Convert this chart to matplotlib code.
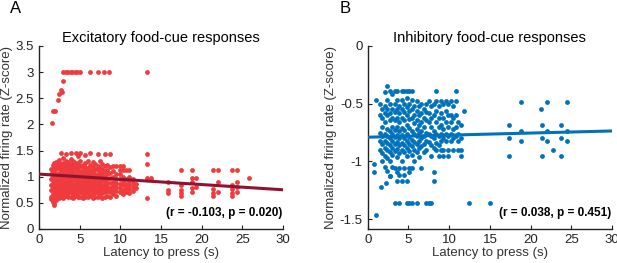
import matplotlib
matplotlib.use("Agg")
import matplotlib.pyplot as plt
import numpy as np

plt.rcParams['font.family'] = ['Liberation Sans', 'DejaVu Sans']

# ---------------- Panel A data (excitatory) ----------------
exc_cols_x = [1.5, 1.7, 1.9, 2.1, 2.4, 2.7, 3.0, 3.3, 3.6, 3.9, 4.2, 4.5, 4.8, 5.1, 5.4,
              5.7, 6.0, 6.3, 6.6, 6.9, 7.2, 7.5, 7.8, 8.1, 8.4, 8.7, 9.1, 9.5, 9.9, 10.3,
              10.7, 11.1, 11.6, 11.9]
exc_cols_y = [
    [0.58, 0.62, 0.75, 0.85, 0.95, 1.05, 1.15],
    [0.52, 0.66, 0.72, 0.80, 0.88, 0.98, 1.10, 1.22],
    [0.45, 0.50, 0.60, 0.68, 0.76, 0.83, 0.90, 0.97, 1.04, 1.12, 1.18, 1.26],
    [0.55, 0.63, 0.70, 0.77, 0.85, 0.92, 0.99, 1.06, 1.14, 1.20, 1.28],
    [0.60, 0.66, 0.72, 0.80, 0.87, 0.94, 1.00, 1.08, 1.16, 1.24, 1.32],
    [0.62, 0.69, 0.75, 0.82, 0.90, 0.96, 1.03, 1.10, 1.18, 1.25, 1.45],
    [0.60, 0.67, 0.73, 0.79, 0.86, 0.92, 0.99, 1.06, 1.12, 1.20, 1.27, 1.35],
    [0.63, 0.70, 0.76, 0.83, 0.90, 0.97, 1.03, 1.10, 1.16, 1.23, 1.30, 1.43],
    [0.61, 0.68, 0.74, 0.80, 0.88, 0.94, 1.01, 1.08, 1.15, 1.22, 1.28],
    [0.62, 0.70, 0.77, 0.84, 0.91, 0.98, 1.05, 1.12, 1.19, 1.25, 1.33, 1.45],
    [0.60, 0.66, 0.73, 0.80, 0.87, 0.95, 1.02, 1.09, 1.17, 1.24, 1.30],
    [0.63, 0.71, 0.78, 0.85, 0.92, 0.99, 1.06, 1.14, 1.21, 1.27, 1.45],
    [0.61, 0.68, 0.75, 0.82, 0.89, 0.96, 1.04, 1.11, 1.18, 1.25, 1.40],
    [0.62, 0.70, 0.77, 0.84, 0.90, 0.97, 1.03, 1.10, 1.20, 1.30, 1.46],
    [0.60, 0.66, 0.73, 0.80, 0.87, 0.94, 1.01, 1.08, 1.15, 1.23],
    [0.62, 0.69, 0.76, 0.84, 0.91, 0.98, 1.05, 1.12, 1.19, 1.27, 1.42],
    [0.61, 0.68, 0.74, 0.81, 0.88, 0.95, 1.02, 1.09, 1.16, 1.30],
    [0.63, 0.70, 0.77, 0.85, 0.92, 0.99, 1.06, 1.13, 1.22, 1.45],
    [0.60, 0.67, 0.74, 0.81, 0.88, 0.96, 1.03, 1.10, 1.18, 1.28],
    [0.62, 0.70, 0.77, 0.84, 0.91, 0.98, 1.06, 1.14, 1.25],
    [0.61, 0.68, 0.75, 0.82, 0.90, 0.97, 1.04, 1.12, 1.20, 1.44],
    [0.63, 0.71, 0.78, 0.86, 0.93, 1.00, 1.08, 1.17, 1.30],
    [0.60, 0.68, 0.76, 0.83, 0.91, 0.99, 1.07, 1.15, 1.24],
    [0.62, 0.70, 0.78, 0.86, 0.94, 1.02, 1.10, 1.20, 1.44],
    [0.64, 0.72, 0.80, 0.88, 0.96, 1.05, 1.13, 1.22],
    [0.62, 0.70, 0.78, 0.88, 0.97, 1.08, 1.18, 1.44],
    [0.66, 0.74, 0.82, 0.90, 0.99, 1.10, 1.20],
    [0.64, 0.72, 0.80, 0.88, 0.96, 1.06, 1.20],
    [0.70, 0.78, 0.86, 0.95, 1.05, 1.13, 1.20],
    [0.66, 0.75, 0.84, 0.92, 1.00, 1.12, 1.20],
    [0.70, 0.78, 0.86, 0.95, 1.13],
    [0.68, 0.76, 0.84, 0.92, 1.00, 1.13],
    [0.72, 0.80, 0.88, 0.95],
    [0.78, 0.86],
]
# sparse / outlying excitatory points
exc_x_extra = [1.56, 1.77, 1.97, 2.38, 2.5, 2.67, 2.8, 2.9,
               3.0, 3.3, 3.6, 3.9, 4.1, 4.4, 4.7, 5.0, 6.3, 7.2, 8.0, 8.6, 13.3,
               13.3, 13.3, 13.3, 13.8, 13.3,
               15.9, 15.9, 15.9,
               17.5, 17.5, 17.5, 17.5, 17.5,
               18.8, 18.8, 18.8, 18.8, 18.8, 19.3, 19.3,
               21.4, 21.4, 21.4, 21.4, 22.0, 22.0, 22.0,
               23.7, 23.7, 23.7, 23.7, 23.7, 24.4, 24.4, 24.4, 24.4,
               25.8]
exc_y_extra = [2.03, 2.26, 2.26, 2.47, 2.58, 2.66, 2.62, 2.83,
               3.0, 3.0, 3.0, 3.0, 3.0, 3.0, 3.0, 3.0, 3.0, 3.0, 3.0, 3.0, 3.0,
               1.43, 1.24, 0.98, 0.98, 0.60,
               0.89, 0.75, 0.68,
               1.13, 0.84, 0.75, 0.68, 0.63,
               1.13, 0.98, 0.89, 0.78, 0.71, 0.98, 0.81,
               1.13, 0.76, 0.68, 0.63, 1.13, 0.89, 0.71,
               1.13, 0.84, 0.76, 0.68, 0.63, 1.13, 0.89, 0.81, 0.71,
               0.98]
exc_fit = (1.05, -0.010)   # intercept, slope
exc_stats = "(r = -0.103, p = 0.020)"

# ---------------- Panel B data (inhibitory) ----------------
inh_cols_x = [1.5, 1.8, 2.1, 2.4, 2.7, 3.0, 3.3, 3.6, 3.9, 4.2, 4.5, 4.8, 5.1, 5.4, 5.7,
              6.0, 6.3, 6.6, 6.9, 7.2, 7.5, 7.8, 8.1, 8.4, 8.7, 9.0, 9.3, 9.6, 9.9,
              10.2, 10.5, 10.8, 11.1, 11.4, 11.8]
inh_cols_y = [
    [-0.50, -0.60, -0.75, -0.82, -0.90],
    [-0.55, -0.62, -0.70, -0.78, -0.85, -0.93, -1.00],
    [-0.40, -0.52, -0.58, -0.66, -0.76, -0.82, -0.88, -0.95, -1.05],
    [-0.35, -0.47, -0.55, -0.60, -0.72, -0.78, -0.84, -0.90, -0.97, -1.08],
    [-0.39, -0.50, -0.58, -0.64, -0.74, -0.80, -0.86, -0.92, -1.00, -1.13],
    [-0.42, -0.55, -0.62, -0.70, -0.76, -0.82, -0.88, -0.94, -1.05],
    [-0.39, -0.50, -0.57, -0.64, -0.73, -0.79, -0.85, -0.91, -1.06, -1.36],
    [-0.39, -0.47, -0.55, -0.62, -0.70, -0.77, -0.83, -0.89, -0.96, -1.09, -1.17],
    [-0.52, -0.58, -0.66, -0.74, -0.80, -0.86, -0.93, -1.06, -1.12, -1.36],
    [-0.39, -0.47, -0.55, -0.62, -0.71, -0.77, -0.84, -0.90, -1.00, -1.17],
    [-0.39, -0.50, -0.57, -0.64, -0.73, -0.80, -0.86, -0.92, -1.06, -1.12],
    [-0.39, -0.45, -0.53, -0.60, -0.68, -0.76, -0.82, -0.88, -0.95, -1.17, -1.36],
    [-0.39, -0.50, -0.56, -0.63, -0.71, -0.79, -0.85, -0.91, -1.06, -1.09, -1.36],
    [-0.39, -0.47, -0.55, -0.62, -0.74, -0.81, -0.87, -0.94, -1.06, -1.36],
    [-0.52, -0.60, -0.67, -0.76, -0.83, -0.90, -1.00],
    [-0.48, -0.56, -0.64, -0.72, -0.78, -0.85, -0.92, -1.36],
    [-0.52, -0.60, -0.68, -0.75, -0.82, -0.88, -0.96],
    [-0.50, -0.58, -0.66, -0.74, -0.80, -0.87, -1.06],
    [-0.55, -0.62, -0.70, -0.78, -0.85, -0.92],
    [-0.50, -0.57, -0.64, -0.75, -0.82, -0.90, -1.36],
    [-0.48, -0.58, -0.66, -0.76, -0.83, -1.36],
    [-0.52, -0.62, -0.70, -0.78, -0.86, -0.95, -1.36],
    [-0.50, -0.60, -0.74, -0.80, -0.88, -1.09, -1.17],
    [-0.39, -0.48, -0.56, -0.66, -0.76, -0.84, -0.90],
    [-0.52, -0.62, -0.70, -0.78, -0.86, -0.95],
    [-0.48, -0.58, -0.68, -0.76, -0.82, -0.90],
    [-0.50, -0.62, -0.72, -0.80, -0.90, -0.95],
    [-0.48, -0.56, -0.66, -0.76, -0.82],
    [-0.50, -0.60, -0.70, -0.78, -0.90, -0.95],
    [-0.48, -0.60, -0.66, -0.76, -0.82],
    [-0.52, -0.62, -0.72, -0.80, -0.90],
    [-0.39, -0.48, -0.60, -0.70, -0.78],
    [-0.66, -0.76, -0.82, -0.90],
    [-0.68, -0.80, -0.90, -0.95],
    [-0.56],
]
inh_x_extra = [1.06, 0.74, 0.74, 1.6, 2.3, 2.7, 1.06, 12.4, 15.0,
               17.4, 17.4, 17.4, 18.8, 18.8, 18.8,
               21.25, 21.4, 21.4, 21.4, 22.0, 22.0, 22.0, 22.7,
               23.7, 23.7, 23.7, 24.45, 24.45, 24.45]
inh_y_extra = [-1.466, -1.02, -1.09, -1.22, -1.185, -1.13, -0.47, -1.36, -1.36,
               -0.68, -0.795, -0.954, -0.483, -0.735, -0.824,
               -0.55, -0.68, -0.795, -0.954, -0.483, -0.735, -0.824, -0.90,
               -0.68, -0.795, -0.954, -0.483, -0.735, -0.824]
inh_fit = (-0.79, 0.0018)
inh_stats = "(r = 0.038, p = 0.451)"

red = '#EF3B3E'
dark_red = '#8E1330'
blue = '#0072BD'


def flatten(cols_x, cols_y, ex_x, ex_y):
    xs, ys = [], []
    for x, col in zip(cols_x, cols_y):
        xs += [x] * len(col)
        ys += col
    return np.array(xs + ex_x), np.array(ys + ex_y)


fig = plt.figure(figsize=(6.17, 2.63), dpi=100)
axA = fig.add_axes([0.0632, 0.1293, 0.3955, 0.6958])
axB = fig.add_axes([0.596, 0.1293, 0.396, 0.6958])

xa, ya = flatten(exc_cols_x, exc_cols_y, exc_x_extra, exc_y_extra)
xb, yb = flatten(inh_cols_x, inh_cols_y, inh_x_extra, inh_y_extra)

line_x = np.array([0, 30])

axA.scatter(xa, ya, s=12, color=red, linewidths=0, zorder=2)
axA.plot(line_x, exc_fit[0] + exc_fit[1] * line_x, color=dark_red, lw=2.2, zorder=3)
axA.set_ylim(0, 3.5)
axA.set_yticks([0, 0.5, 1, 1.5, 2, 2.5, 3, 3.5])
axA.set_yticklabels(['0', '0.5', '1', '1.5', '2', '2.5', '3', '3.5'])
axA.set_title('Excitatory food-cue responses', fontsize=10.5, pad=3)
axA.text(29.9, 0.31, exc_stats, fontsize=8.5, fontweight='bold', ha='right', va='center')

axB.scatter(xb, yb, s=12, color=blue, linewidths=0, zorder=2)
axB.plot(line_x, inh_fit[0] + inh_fit[1] * line_x, color=blue, lw=2.2, zorder=3)
axB.set_ylim(-1.585, 0)
axB.set_yticks([-1.5, -1, -0.5, 0])
axB.set_yticklabels(['-1.5', '-1', '-0.5', '0'])
axB.set_title('Inhibitory food-cue responses', fontsize=10.5, pad=3)
axB.text(29.9, -1.445, inh_stats, fontsize=8.5, fontweight='bold', ha='right', va='center')

for ax in (axA, axB):
    ax.set_xlim(0, 30)
    ax.set_xticks([0, 5, 10, 15, 20, 25, 30])
    ax.spines['top'].set_visible(False)
    ax.spines['right'].set_visible(False)
    for sp in ('left', 'bottom'):
        ax.spines[sp].set_linewidth(1.0)
        ax.spines[sp].set_color('#222222')
    ax.tick_params(direction='in', length=3, width=0.8, labelsize=9.5, colors='#222222')
    ax.set_xlabel('Latency to press (s)', fontsize=9.5, color='#333333', labelpad=1)
    ax.set_ylabel('Normalized firing rate (Z-score)', fontsize=9.5, color='#333333', labelpad=2)

fig.text(0.016, 0.995, 'A', fontsize=12, va='top', ha='left')
fig.text(0.551, 0.995, 'B', fontsize=12, va='top', ha='left')

fig.savefig('out.png', dpi=100)
